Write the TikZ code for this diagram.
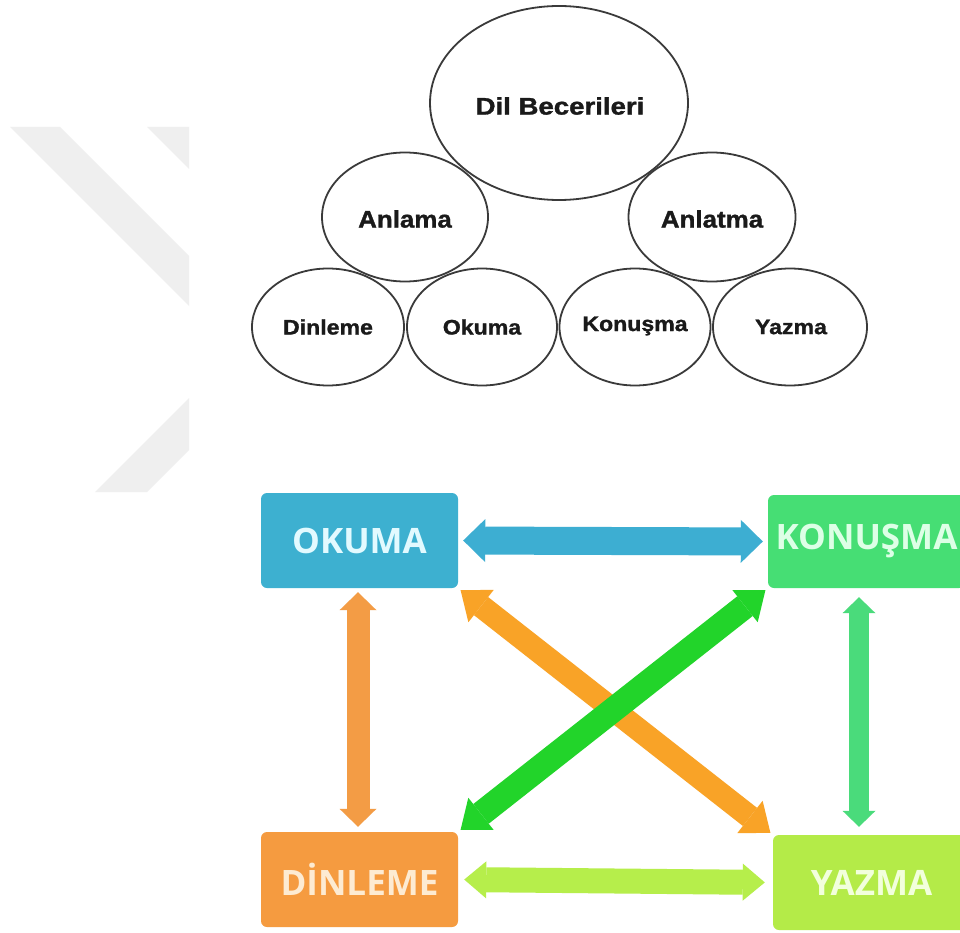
\documentclass[tikz,border=0pt]{standalone}
\usepackage{fontspec}
\usepackage{graphicx}
\usetikzlibrary{shapes.geometric,arrows.meta}
\newfontfamily\lblfont{Liberation Sans Bold}[FakeBold=1.2]
\newfontfamily\boxfont{Open Sans}
\definecolor{wmgray}{HTML}{EFEFEF}
\definecolor{ovalline}{HTML}{3A3A3A}
\definecolor{ovaltext}{HTML}{1A1A1A}
\definecolor{cblue}{HTML}{3DB0D0}
\definecolor{corange}{HTML}{F59B40}
\definecolor{cgreen}{HTML}{46DE74}
\definecolor{clime}{HTML}{B4EB48}
\definecolor{tblue}{HTML}{E2FAFF}
\definecolor{torange}{HTML}{FDEBD2}
\definecolor{tgreen}{HTML}{DDFFE6}
\definecolor{tlime}{HTML}{F2FFDC}
\definecolor{ablue}{HTML}{3DAED2}
\definecolor{aorange}{HTML}{F39C45}
\definecolor{adiag}{HTML}{F9A327}
\definecolor{agreen}{HTML}{22D42A}
\definecolor{avert}{HTML}{4ADB7B}
\definecolor{alime}{HTML}{B6EE4B}
\newcommand\widetxt[2]{\scalebox{#1}[1]{#2}}
\begin{document}
\begin{tikzpicture}[x=1pt,y=-1pt,
  oval/.style={ellipse,draw=ovalline,line width=1.8pt,inner sep=0pt},
  toplbl/.style={font=\lblfont\fontsize{24}{28}\selectfont,text=ovaltext},
  lowlbl/.style={font=\lblfont\fontsize{21}{25}\selectfont,text=ovaltext},
  skillbox/.style={rounded corners=6pt,minimum width=197pt,minimum height=95pt,inner sep=0pt,
    font=\boxfont\bfseries\fontsize{35}{40}\selectfont},
  link/.style n args={4}{draw=#1,line width=#2,
    arrows={Triangle[length=#3,width=#4,line width=0pt]-Triangle[length=#3,width=#4,line width=0pt]}}
]
\useasboundingbox (0,0) rectangle (960,933);
\clip (0,0) rectangle (960,933);
\fill[white] (0,0) rectangle (960,933);

% watermark
\fill[wmgray] (10,127) -- (60,127) -- (189,256) -- (189,306) -- cycle;
\fill[wmgray] (147,127) -- (189,127) -- (189,169) -- cycle;
\fill[wmgray] (189,398) -- (189,450) -- (147,492) -- (95,492) -- cycle;

% top ovals
\node[oval,minimum width=258pt,minimum height=194pt] (dil) at (559,103) {};
\node[toplbl] (dilt) at (560,106) {\widetxt{1.15}{Dil Becerileri}};
\node[oval,minimum width=166pt,minimum height=129pt] (anlama) at (405,217) {};
\node[toplbl] (anlamat) at (405,219) {\widetxt{1.08}{Anlama}};
\node[oval,minimum width=167pt,minimum height=129pt] (anlatma) at (712,217) {};
\node[toplbl] (anlatmat) at (712,219) {\widetxt{1.08}{Anlatma}};
\node[oval,minimum width=152pt,minimum height=117pt] (dinle) at (328,327) {};
\node[lowlbl] (dinlet) at (328,327) {\widetxt{1.1}{Dinleme}};
\node[oval,minimum width=150pt,minimum height=117pt] (oku) at (482,327) {};
\node[lowlbl] (okut) at (482,327) {\widetxt{1.1}{Okuma}};
\node[oval,minimum width=151pt,minimum height=117pt] (konus) at (635,327) {};
\node[lowlbl] (konust) at (635,326) {\widetxt{1.1}{Konuşma}};
\node[oval,minimum width=154pt,minimum height=117pt] (yaz) at (790,327) {};
\node[lowlbl] (yazt) at (791,327) {\widetxt{1.1}{Yazma}};

% boxes
\node[skillbox,fill=cblue,text=tblue] (okuma) at (359.5,540.5) {OKUMA};
\node[skillbox,fill=corange,text=torange] (dinleme) at (359.5,879.5) {DİNLEME};
\node[skillbox,fill=cgreen,text=tgreen,minimum height=93pt] (konusma) at (866.5,541.5) {KONUŞMA};
\node[skillbox,fill=clime,text=tlime] (yazma) at (871.5,882.5) {YAZMA};

% arrows
\draw[link={ablue}{28pt}{22pt}{43pt},shorten <=5pt,shorten >=5pt] (okuma.east) -- (konusma.west);
\draw[link={alime}{25pt}{22pt}{37pt},shorten <=6pt,shorten >=8pt] (dinleme.east) -- (yazma.west);
\draw[link={aorange}{23pt}{18pt}{37pt},shorten <=4pt,shorten >=5pt] ([xshift=-1.5pt]okuma.south) -- ([xshift=-1.5pt]dinleme.north);
\draw[link={avert}{20pt}{16pt}{33pt},shorten <=9pt,shorten >=8pt] ([xshift=-7.5pt]konusma.south) -- ([xshift=-12.5pt]yazma.north);
\draw[link={adiag}{23pt}{26pt}{41pt},shorten <=3pt,shorten >=3pt] (okuma.south east) -- (yazma.north west);
\draw[link={agreen}{25pt}{26pt}{41pt},shorten <=3pt,shorten >=3pt] (konusma.south west) -- (dinleme.north east);
\end{tikzpicture}
\end{document}
